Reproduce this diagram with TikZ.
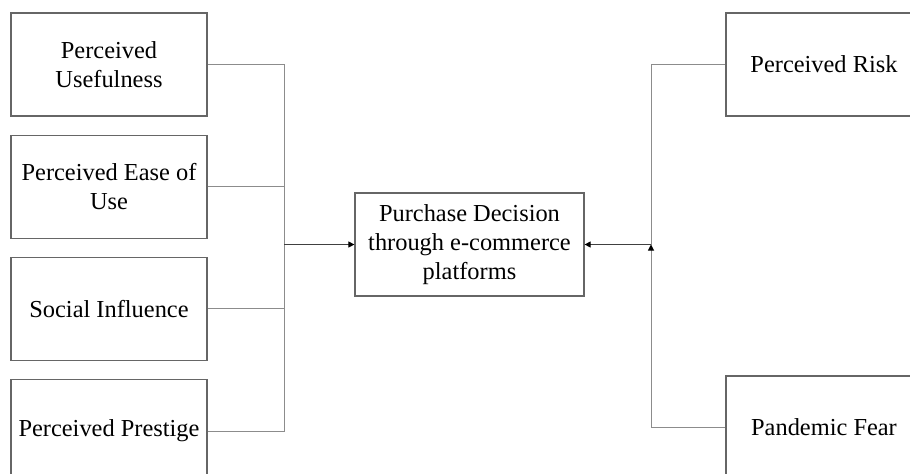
\documentclass[tikz,border=0pt]{standalone}
\usepackage{fontspec}
\setmainfont{Liberation Serif}
\usepackage{tikz}
\usetikzlibrary{positioning, arrows.meta}

\begin{document}
\begin{tikzpicture}[
    x=1pt, y=1pt,
    node distance=9pt and 74pt,
    factor/.style={rectangle, draw=black!60, line width=0.6pt, minimum width=98pt, minimum height=51.5pt, align=center, font=\fontsize{12.2}{14.5}\selectfont},
    link/.style={draw=black!45, line width=0.5pt},
    arr/.style={-{Triangle[length=3pt, width=3pt, color=black]}, draw=black!75, line width=0.5pt}
]
    \useasboundingbox (0,0) rectangle (455,-236.5);

    % independent factors
    \node[factor] (useful) at (54.5,-32.25) {Perceived\\Usefulness};
    \node[factor, below=of useful] (ease) {Perceived Ease of\\Use};
    \node[factor, below=of ease] (social) {Social Influence};
    \node[factor, below=of social] (prestige) {Perceived Prestige};

    % outcome
    \node[factor, minimum width=114.5pt] (decision) at (234.75,-122.25) {Purchase Decision\\through e-commerce\\platforms};

    % right hand factors
    \node[factor] (risk) at (412,-32.25) {Perceived Risk};
    \node[factor] (fear) at (412,-213.75) {Pandemic Fear};

    \coordinate (joinL) at (142,-122.25);
    \coordinate (joinR) at (325.5,-122.25);

    \draw[link] (useful.east) -| (joinL);
    \draw[link] (ease.east) -| (joinL);
    \draw[link] (social.east) -| (joinL);
    \draw[link] (prestige.east) -| (joinL);
    \draw[arr] (joinL) -- (decision.west);

    \draw[link] (risk.west) -| (joinR);
    \draw[link, arr, draw=black!45] (fear.west) -| (joinR);
    \draw[arr] (joinR) -- (decision.east);
\end{tikzpicture}
\end{document}
